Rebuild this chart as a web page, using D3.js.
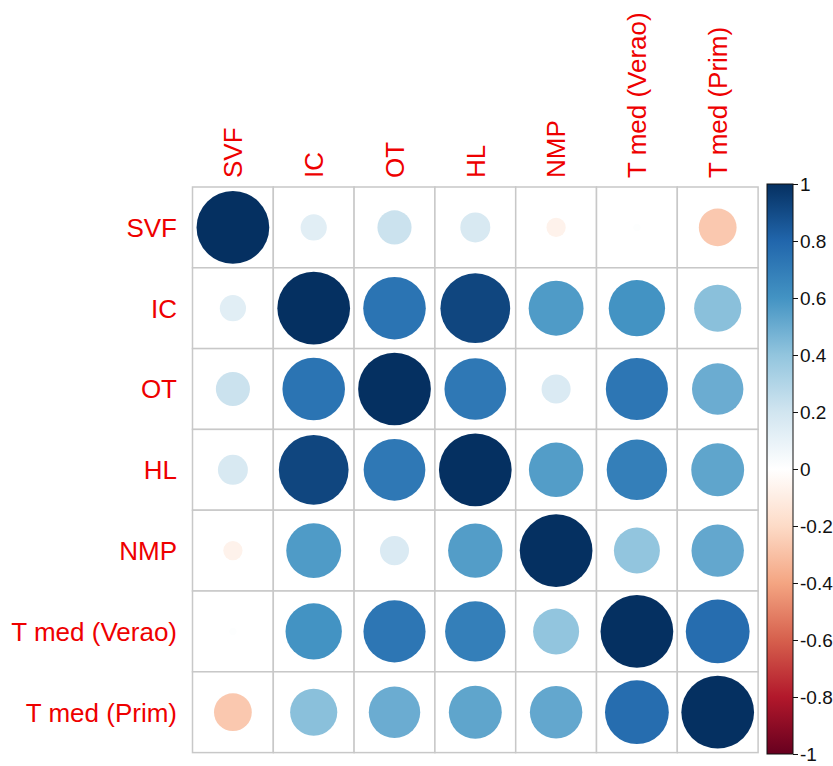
<!DOCTYPE html>
<html>
<head>
<meta charset="utf-8">
<script src="https://cdn.jsdelivr.net/npm/d3@7"></script>
<style>
  html, body { margin: 0; padding: 0; background: #fff; }
  svg { display: block; font-family: "Liberation Sans", Arial, sans-serif; }
</style>
</head>
<body>
<svg id="chart" width="833" height="766"></svg>
<script>
// Variables of the correlation matrix (row and column order)
const variables = ["SVF", "IC", "OT", "HL", "NMP", "T med (Verao)", "T med (Prim)"];

// Pearson correlations, one row per variable
const rowSVF    = [ 1.00, 0.13, 0.22, 0.17, -0.07, 0.01, -0.27];
const rowIC     = [ 0.13, 1.00, 0.74, 0.92,  0.57, 0.60,  0.42];
const rowOT     = [ 0.22, 0.74, 1.00, 0.72,  0.16, 0.73,  0.50];
const rowHL     = [ 0.17, 0.92, 0.72, 1.00,  0.56, 0.69,  0.53];
const rowNMP    = [-0.07, 0.57, 0.16, 0.56,  1.00, 0.40,  0.52];
const rowTVerao = [ 0.01, 0.60, 0.73, 0.69,  0.40, 1.00,  0.77];
const rowTPrim  = [-0.27, 0.42, 0.50, 0.53,  0.52, 0.77,  1.00];
const matrix = [rowSVF, rowIC, rowOT, rowHL, rowNMP, rowTVerao, rowTPrim];

// Colour legend ticks
const legendTicks = [1, 0.8, 0.6, 0.4, 0.2, 0, -0.2, -0.4, -0.6, -0.8, -1];

// RdBu diverging palette, -1 .. 1
const paletteColors = ["#67001F", "#B2182B", "#D6604D", "#F4A582", "#FDDBC7", "#FFFFFF",
                       "#D1E5F0", "#92C5DE", "#4393C3", "#2166AC", "#053061"];
const paletteStops = d3.range(paletteColors.length).map(i => -1 + 2 * i / (paletteColors.length - 1));
const color = d3.scaleLinear().domain(paletteStops).range(paletteColors);

const svg = d3.select("#chart");
const labelColor = "#EE0000";
const labelSize = 26;

// Grid geometry
const gridLeft = 192.5, gridTop = 187, gridSize = 565.6;
const x = d3.scaleBand().domain(variables).range([gridLeft, gridLeft + gridSize]);
const y = d3.scaleBand().domain(variables).range([gridTop, gridTop + gridSize]);
const cell = x.bandwidth();
const radius = d3.scaleSqrt().domain([0, 1]).range([0, 0.45 * cell]);

const cells = [];
matrix.forEach((row, i) => row.forEach((v, j) => cells.push({ r: variables[i], c: variables[j], v })));

// Cell backgrounds and grid
svg.append("g").selectAll("rect").data(cells).join("rect")
  .attr("x", d => x(d.c)).attr("y", d => y(d.r))
  .attr("width", cell).attr("height", cell)
  .attr("fill", "#fff").attr("stroke", "#c8c8c8").attr("stroke-width", 1.5);

// Correlation circles
svg.append("g").selectAll("circle").data(cells).join("circle")
  .attr("cx", d => x(d.c) + cell / 2)
  .attr("cy", d => y(d.r) + cell / 2)
  .attr("r", d => radius(Math.abs(d.v)))
  .attr("fill", d => color(d.v));

// Row labels
svg.append("g").selectAll("text").data(variables).join("text")
  .attr("x", 177)
  .attr("y", d => y(d) + cell / 2)
  .attr("dy", "0.36em")
  .attr("text-anchor", "end")
  .attr("font-size", labelSize)
  .attr("fill", labelColor)
  .text(d => d);

// Column labels, rotated
svg.append("g").selectAll("text").data(variables).join("text")
  .attr("transform", d => `translate(${x(d) + cell / 2},178) rotate(-90)`)
  .attr("dy", "0.36em")
  .attr("text-anchor", "start")
  .attr("font-size", labelSize)
  .attr("fill", labelColor)
  .text(d => d);

// Colour legend
const legendX = 767, legendW = 26;
const ly = d3.scaleLinear().domain([1, -1]).range([184, 754]);
const grad = svg.append("defs").append("linearGradient")
  .attr("id", "legendGrad").attr("x1", 0).attr("y1", 1).attr("x2", 0).attr("y2", 0);
paletteStops.forEach((s, i) => grad.append("stop")
  .attr("offset", (s + 1) / 2).attr("stop-color", paletteColors[i]));

svg.append("rect")
  .attr("x", legendX).attr("y", ly(1))
  .attr("width", legendW).attr("height", ly(-1) - ly(1))
  .attr("fill", "url(#legendGrad)")
  .attr("stroke", "#111").attr("stroke-width", 1);

const axis = d3.axisRight(ly).tickValues(legendTicks).tickSize(5).tickPadding(2)
  .tickFormat(d => d === 0 ? "0" : String(d));
const ag = svg.append("g").attr("transform", `translate(${legendX + legendW},0)`).call(axis);
ag.select(".domain").remove();
ag.selectAll(".tick line").attr("stroke", "#111");
ag.selectAll(".tick text")
  .attr("font-size", 19)
  .attr("font-family", "'Liberation Sans', Arial, sans-serif")
  .attr("fill", "#111");
</script>
</body>
</html>
